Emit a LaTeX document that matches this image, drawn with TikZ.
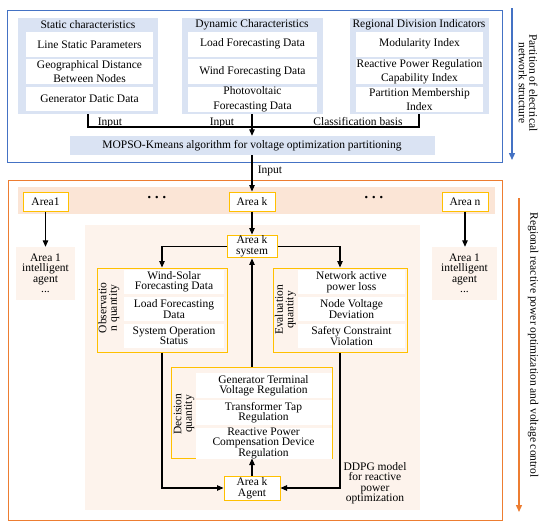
\documentclass[tikz,border=0pt]{standalone}
\usepackage{fontspec}
\setmainfont{Liberation Serif}
\usetikzlibrary{arrows.meta, positioning, calc}
\definecolor{partblue}{RGB}{68, 114, 196}
\definecolor{grpblue}{RGB}{218, 227, 243}
\definecolor{ctrlorange}{RGB}{237, 125, 49}
\definecolor{stripfill}{RGB}{251, 229, 214}
\definecolor{regfill}{RGB}{253, 243, 236}
\definecolor{agentyel}{RGB}{255, 192, 0}
\tikzset{
  grp/.style={rectangle, fill=grpblue, draw=none, inner sep=0pt},
  hdr/.style={inner sep=0pt, font=\fontsize{11.5}{14}\selectfont},
  cell/.style={
    rectangle, fill=white, align=center, inner sep=0pt,
    minimum width=127pt, minimum height=24.5pt,
    font=\fontsize{11.5}{14.5}\selectfont
  },
  icell/.style={
    rectangle, fill=white, align=center, inner sep=0pt,
    minimum height=24pt, font=\fontsize{11.5}{10.5}\selectfont
  },
  abox/.style={
    rectangle, draw=agentyel, line width=1pt, fill=white,
    align=center, inner sep=1pt, font=\fontsize{11.5}{10.5}\selectfont
  },
  qbox/.style={rectangle, draw=agentyel, line width=1pt, fill=regfill, inner sep=0pt},
  ibox/.style={
    rectangle, fill=regfill, align=center, inner sep=0pt,
    font=\fontsize{11.5}{10.5}\selectfont
  },
  lbl/.style={inner sep=0pt, align=center, font=\fontsize{11.5}{10.5}\selectfont},
  dots/.style={inner sep=0pt, font=\fontsize{15}{15}\selectfont\bfseries},
  arr/.style={-{Triangle[length=6.5pt, width=5.5pt]}, line width=1.1pt},
  lnk/.style={line width=1.1pt},
  sidearr/.style={-{Triangle[length=7pt, width=6pt]}, line width=1.4pt},
}

\begin{document}
\begin{tikzpicture}[x=1pt, y=-1pt]
  \useasboundingbox[fill=white] (0,0) rectangle (550,530);

  % partition part
  \draw[partblue, line width=1pt] (7,10) rectangle (502,162);

  \node[grp, minimum width=140pt, minimum height=96pt] (stat) at (88,66) {};
  \node[grp, minimum width=141pt, minimum height=96pt] (dyn) at (252,66) {};
  \node[grp, minimum width=139pt, minimum height=96pt] (regi) at (419,66) {};

  \node[hdr] (stathd) at (88,25) {Static characteristics};
  \node[hdr] (dynhd) at (252,25) {Dynamic Characteristics};
  \node[hdr] (regihd) at (419,25) {Regional Division Indicators};

  \node[cell] (s1) at (89.5,44.25) {Line Static Parameters};
  \node[cell, below=2.5pt of s1] (s2) {Geographical Distance\\Between Nodes};
  \node[cell, below=2.5pt of s2] (s3) {Generator Datic Data};

  \node[cell, minimum width=129pt] (d1) at (252.5,44.25) {Load Forecasting Data};
  \node[cell, minimum width=129pt, below=2.5pt of d1] (d2) {Wind Forecasting Data};
  \node[cell, minimum width=129pt, below=2.5pt of d2] (d3) {Photovoltaic\\Forecasting Data};

  \node[cell] (r1) at (419.5,44.25) {Modularity Index};
  \node[cell, below=2.5pt of r1] (r2) {Reactive Power Regulation\\Capability Index};
  \node[cell, below=2.5pt of r2] (r3) {Partition Membership\\Index};

  \node[grp, minimum width=365pt, minimum height=19pt, font=\fontsize{11.5}{14}\selectfont]
    (mopso) at (252,145.5) {MOPSO-Kmeans algorithm for voltage optimization partitioning};

  \coordinate (join) at (252,127);
  \draw[lnk] (stat.south) |- (join);
  \draw[lnk] (regi.south) |- (join);
  \draw[arr] (dyn.south) -- (mopso.north);
  \node[hdr, anchor=base] (inp1) at (110,125) {Input};
  \node[hdr, anchor=base] (inp2) at (222,125) {Input};
  \node[hdr, anchor=base] (clsb) at (358,125) {Classification basis};

  \coordinate (ptop) at (512,8);
  \coordinate (pbot) at (512,160);
  \draw[sidearr, partblue] (ptop) -- (pbot);
  \node[lbl, rotate=-90] (partlbl) at (528,83) {Partition of electrical\\network structure};

  % control part
  \draw[ctrlorange, line width=1pt] (8,180) rectangle (502,520);
  \fill[stripfill] (18,187) rectangle (495,214);
  \fill[regfill] (85,225) rectangle (420,510);

  \node[abox, minimum width=45pt, minimum height=19pt] (area1) at (45.5,201.5) {Area1};
  \node[abox, minimum width=46pt, minimum height=19pt] (areak) at (252,201.5) {Area k};
  \node[abox, minimum width=46pt, minimum height=19pt] (arean) at (465,201.5) {Area n};
  \node[dots] (dotsl) at (157,199) {·\,·\,·};
  \node[dots] (dotsr) at (374,199) {·\,·\,·};

  \node[ibox, minimum width=59pt, minimum height=53pt] (ag1) at (45.5,273.5)
    {Area 1\\intelligent\\agent\\...};
  \node[ibox, minimum width=65pt, minimum height=53pt] (agn) at (464.5,273.5)
    {Area 1\\intelligent\\agent\\...};

  \draw[arr] (mopso.south) -- (areak.north);
  \node[hdr] (inp3) at (270,171) {Input};
  \draw[arr] (area1.south) -- (ag1.north);
  \draw[arr] (arean.south) -- (arean.south |- agn.north);

  \node[abox, minimum width=50pt, minimum height=21pt] (sys) at (252,246.5) {Area k\\system};
  \draw[arr] (areak.south) -- (sys.north);

  % observation quantity
  \node[qbox, minimum width=130pt, minimum height=84pt] (obs) at (162,310) {};
  \node[icell, minimum width=100pt] (o1) at (174,282) {Wind-Solar\\Forecasting Data};
  \node[icell, minimum width=100pt, below=2.5pt of o1] (o2) {Load Forecasting\\Data};
  \node[icell, minimum width=100pt, below=2.5pt of o2] (o3) {System Operation\\Status};
  \node[lbl, rotate=90] (obslbl) at (109,308) {Observatio\\n quantity};

  % evaluation quantity
  \node[qbox, minimum width=134pt, minimum height=84pt] (eval) at (340,310) {};
  \node[icell, minimum width=107pt] (e1) at (351.5,282) {Network active\\power loss};
  \node[icell, minimum width=107pt, below=2.5pt of e1] (e2) {Node Voltage\\Deviation};
  \node[icell, minimum width=107pt, below=2.5pt of e2] (e3) {Safety Constraint\\Violation};
  \node[lbl, rotate=90] (evallbl) at (285.5,310) {Evaluation\\quantity};

  % decision quantity
  \node[qbox, minimum width=161pt, minimum height=91pt] (dec) at (252,412.5) {};
  \node[icell, minimum width=136pt, minimum height=25pt] (c1) at (263.5,385.5)
    {Generator Terminal\\Voltage Regulation};
  \node[icell, minimum width=136pt, minimum height=25pt, below=2pt of c1] (c2)
    {Transformer Tap\\Regulation};
  \node[icell, minimum width=136pt, minimum height=25pt, below=2pt of c2] (c3)
    {Reactive Power\\Compensation Device\\Regulation};
  \node[lbl, rotate=90] (declbl) at (184,414) {Decision\\quantity};

  \node[abox, minimum width=56pt, minimum height=24pt] (agk) at (252,488) {Area k\\Agent};

  \draw[arr] (sys.west) -| (obs.north);
  \draw[arr] (sys.east) -| (eval.north);
  \draw[arr] (dec.north) -- (sys.south);
  \draw[arr] (agk.north) -- (dec.south);
  \draw[arr] (obs.south) |- (agk.west);
  \draw[arr] (eval.south) |- (agk.east);

  \node[lbl] (ddpg) at (375,483) {DDPG model\\for reactive\\power\\optimization};

  \coordinate (ctop) at (519,198);
  \coordinate (cbot) at (519,512);
  \draw[sidearr, ctrlorange] (ctop) -- (cbot);
  \node[lbl, rotate=-90] (ctrllbl) at (533,345)
    {Regional reactive power optimization and voltage control};
\end{tikzpicture}
\end{document}
